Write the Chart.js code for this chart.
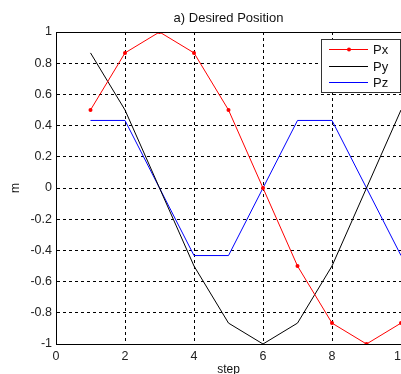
<!DOCTYPE html>
<html>
<head>
<meta charset="utf-8">
<script src="https://cdn.jsdelivr.net/npm/chart.js@4/dist/chart.umd.min.js"></script>
<style>
    html, body { margin: 0; padding: 0; background: #fff; overflow: hidden; }
    #wrap { width: 401px; height: 374px; }
</style>
</head>
<body>
<div id="wrap"><canvas id="myChart"></canvas></div>
<script>
// values
const steps = [1, 2, 3, 4, 5, 6, 7, 8, 9, 10];
const px = [0.5, 0.866, 1, 0.866, 0.5, 0, -0.5, -0.866, -1, -0.866];
const py = [0.866, 0.5, 0, -0.5, -0.866, -1, -0.866, -0.5, 0, 0.5];
const pz = [0.433, 0.433, 0, -0.433, -0.433, 0, 0.433, 0.433, 0, -0.433];

function toPoints(ys) {
    return steps.map((x, i) => ({ x: x, y: ys[i] }));
}

// full box round the plot, like the matlab axes
const boxPlugin = {
    id: 'box',
    afterDraw(chart) {
        const a = chart.chartArea;
        const ctx = chart.ctx;
        ctx.save();
        ctx.strokeStyle = '#000';
        ctx.lineWidth = 1;
        ctx.strokeRect(Math.round(a.left) + 0.5, Math.round(a.top) + 0.5,
            Math.round(a.right - a.left), Math.round(a.bottom - a.top));
        ctx.restore();
    }
};

// legend box inside the plot, top right
const legendBox = {
    id: 'legendBox',
    afterDraw(chart) {
        const ctx = chart.ctx;
        const x0 = 321, y0 = 39, w = 80, h = 54;
        ctx.save();
        ctx.fillStyle = '#fff';
        ctx.fillRect(x0, y0, w, h);
        ctx.strokeStyle = '#333';
        ctx.lineWidth = 1;
        ctx.strokeRect(x0 + 0.5, y0 + 0.5, w - 1, h - 1);
        chart.data.datasets.forEach((ds, i) => {
            const yy = Math.round(y0 + 10 + i * 16.5) + 0.5;
            ctx.strokeStyle = ds.borderColor;
            ctx.lineWidth = 1;
            ctx.beginPath();
            ctx.moveTo(329, yy);
            ctx.lineTo(368, yy);
            ctx.stroke();
            if (ds.pointRadius > 0) {
                ctx.fillStyle = ds.borderColor;
                ctx.beginPath();
                ctx.arc(349, yy, ds.pointRadius, 0, Math.PI * 2);
                ctx.fill();
            }
            ctx.fillStyle = '#111';
            ctx.font = '13px "Liberation Sans", Arial, sans-serif';
            ctx.textBaseline = 'middle';
            ctx.fillText(ds.label, 373, yy + 1);
        });
        ctx.restore();
    }
};

const ctx = document.getElementById('myChart').getContext('2d');
window.myChart = new Chart(ctx, {
    type: 'line',
    data: {
        datasets: [{
            label: 'Px',
            data: toPoints(px),
            borderColor: '#ff0000',
            backgroundColor: '#ff0000',
            borderWidth: 1,
            pointRadius: 2,
            pointBorderWidth: 0,
            fill: false
        }, {
            label: 'Py',
            data: toPoints(py),
            borderColor: '#000000',
            backgroundColor: '#000000',
            borderWidth: 1,
            pointRadius: 0,
            fill: false
        }, {
            label: 'Pz',
            data: toPoints(pz),
            borderColor: '#0000ff',
            backgroundColor: '#0000ff',
            borderWidth: 1,
            pointRadius: 0,
            fill: false
        }]
    },
    options: {
        responsive: true,
        maintainAspectRatio: false,
        animation: false,
        layout: { autoPadding: false, padding: { left: 0, right: 0, top: 0, bottom: 0 } },
        plugins: {
            legend: { display: false },
            tooltip: { enabled: false },
            title: {
                display: true,
                fullSize: false,
                text: 'a) Desired Position',
                color: '#111',
                font: { family: '"Liberation Sans", Arial, sans-serif', size: 13, weight: 'normal' },
                padding: { top: 10.5, bottom: 5.9 }
            }
        },
        scales: {
            x: {
                type: 'linear',
                min: 0,
                max: 10,
                ticks: {
                    stepSize: 2,
                    color: '#222',
                    padding: 5,
                    maxRotation: 0,
                    font: { family: '"Liberation Sans", Arial, sans-serif', size: 12.5 }
                },
                grid: { color: '#000', lineWidth: 1, tickLength: 0 },
                border: { color: '#000', dash: [3, 3] },
                title: {
                    display: true,
                    text: 'step',
                    color: '#111',
                    font: { family: '"Liberation Sans", Arial, sans-serif', size: 12, lineHeight: 0.8 },
                    padding: 0
                },
                afterFit(scale) {
                    scale.height = 30;
                    scale.paddingLeft = 0;
                    scale.paddingRight = 0;
                }
            },
            y: {
                min: -1,
                max: 1,
                ticks: {
                    stepSize: 0.2,
                    color: '#222',
                    padding: 4,
                    font: { family: '"Liberation Sans", Arial, sans-serif', size: 12.5 },
                    callback: (v) => String(Math.round(v * 10) / 10)
                },
                grid: { color: '#000', lineWidth: 1, tickLength: 0 },
                border: { color: '#000', dash: [3, 3] },
                title: {
                    display: true,
                    text: 'm',
                    color: '#111',
                    font: { family: '"Liberation Sans", Arial, sans-serif', size: 12 },
                    padding: { top: 8, bottom: 0 }
                },
                afterFit(scale) {
                    scale.width = 56;
                    scale.paddingTop = 0;
                    scale.paddingBottom = 0;
                }
            }
        }
    },
    plugins: [boxPlugin, legendBox]
});
</script>
</body>
</html>
